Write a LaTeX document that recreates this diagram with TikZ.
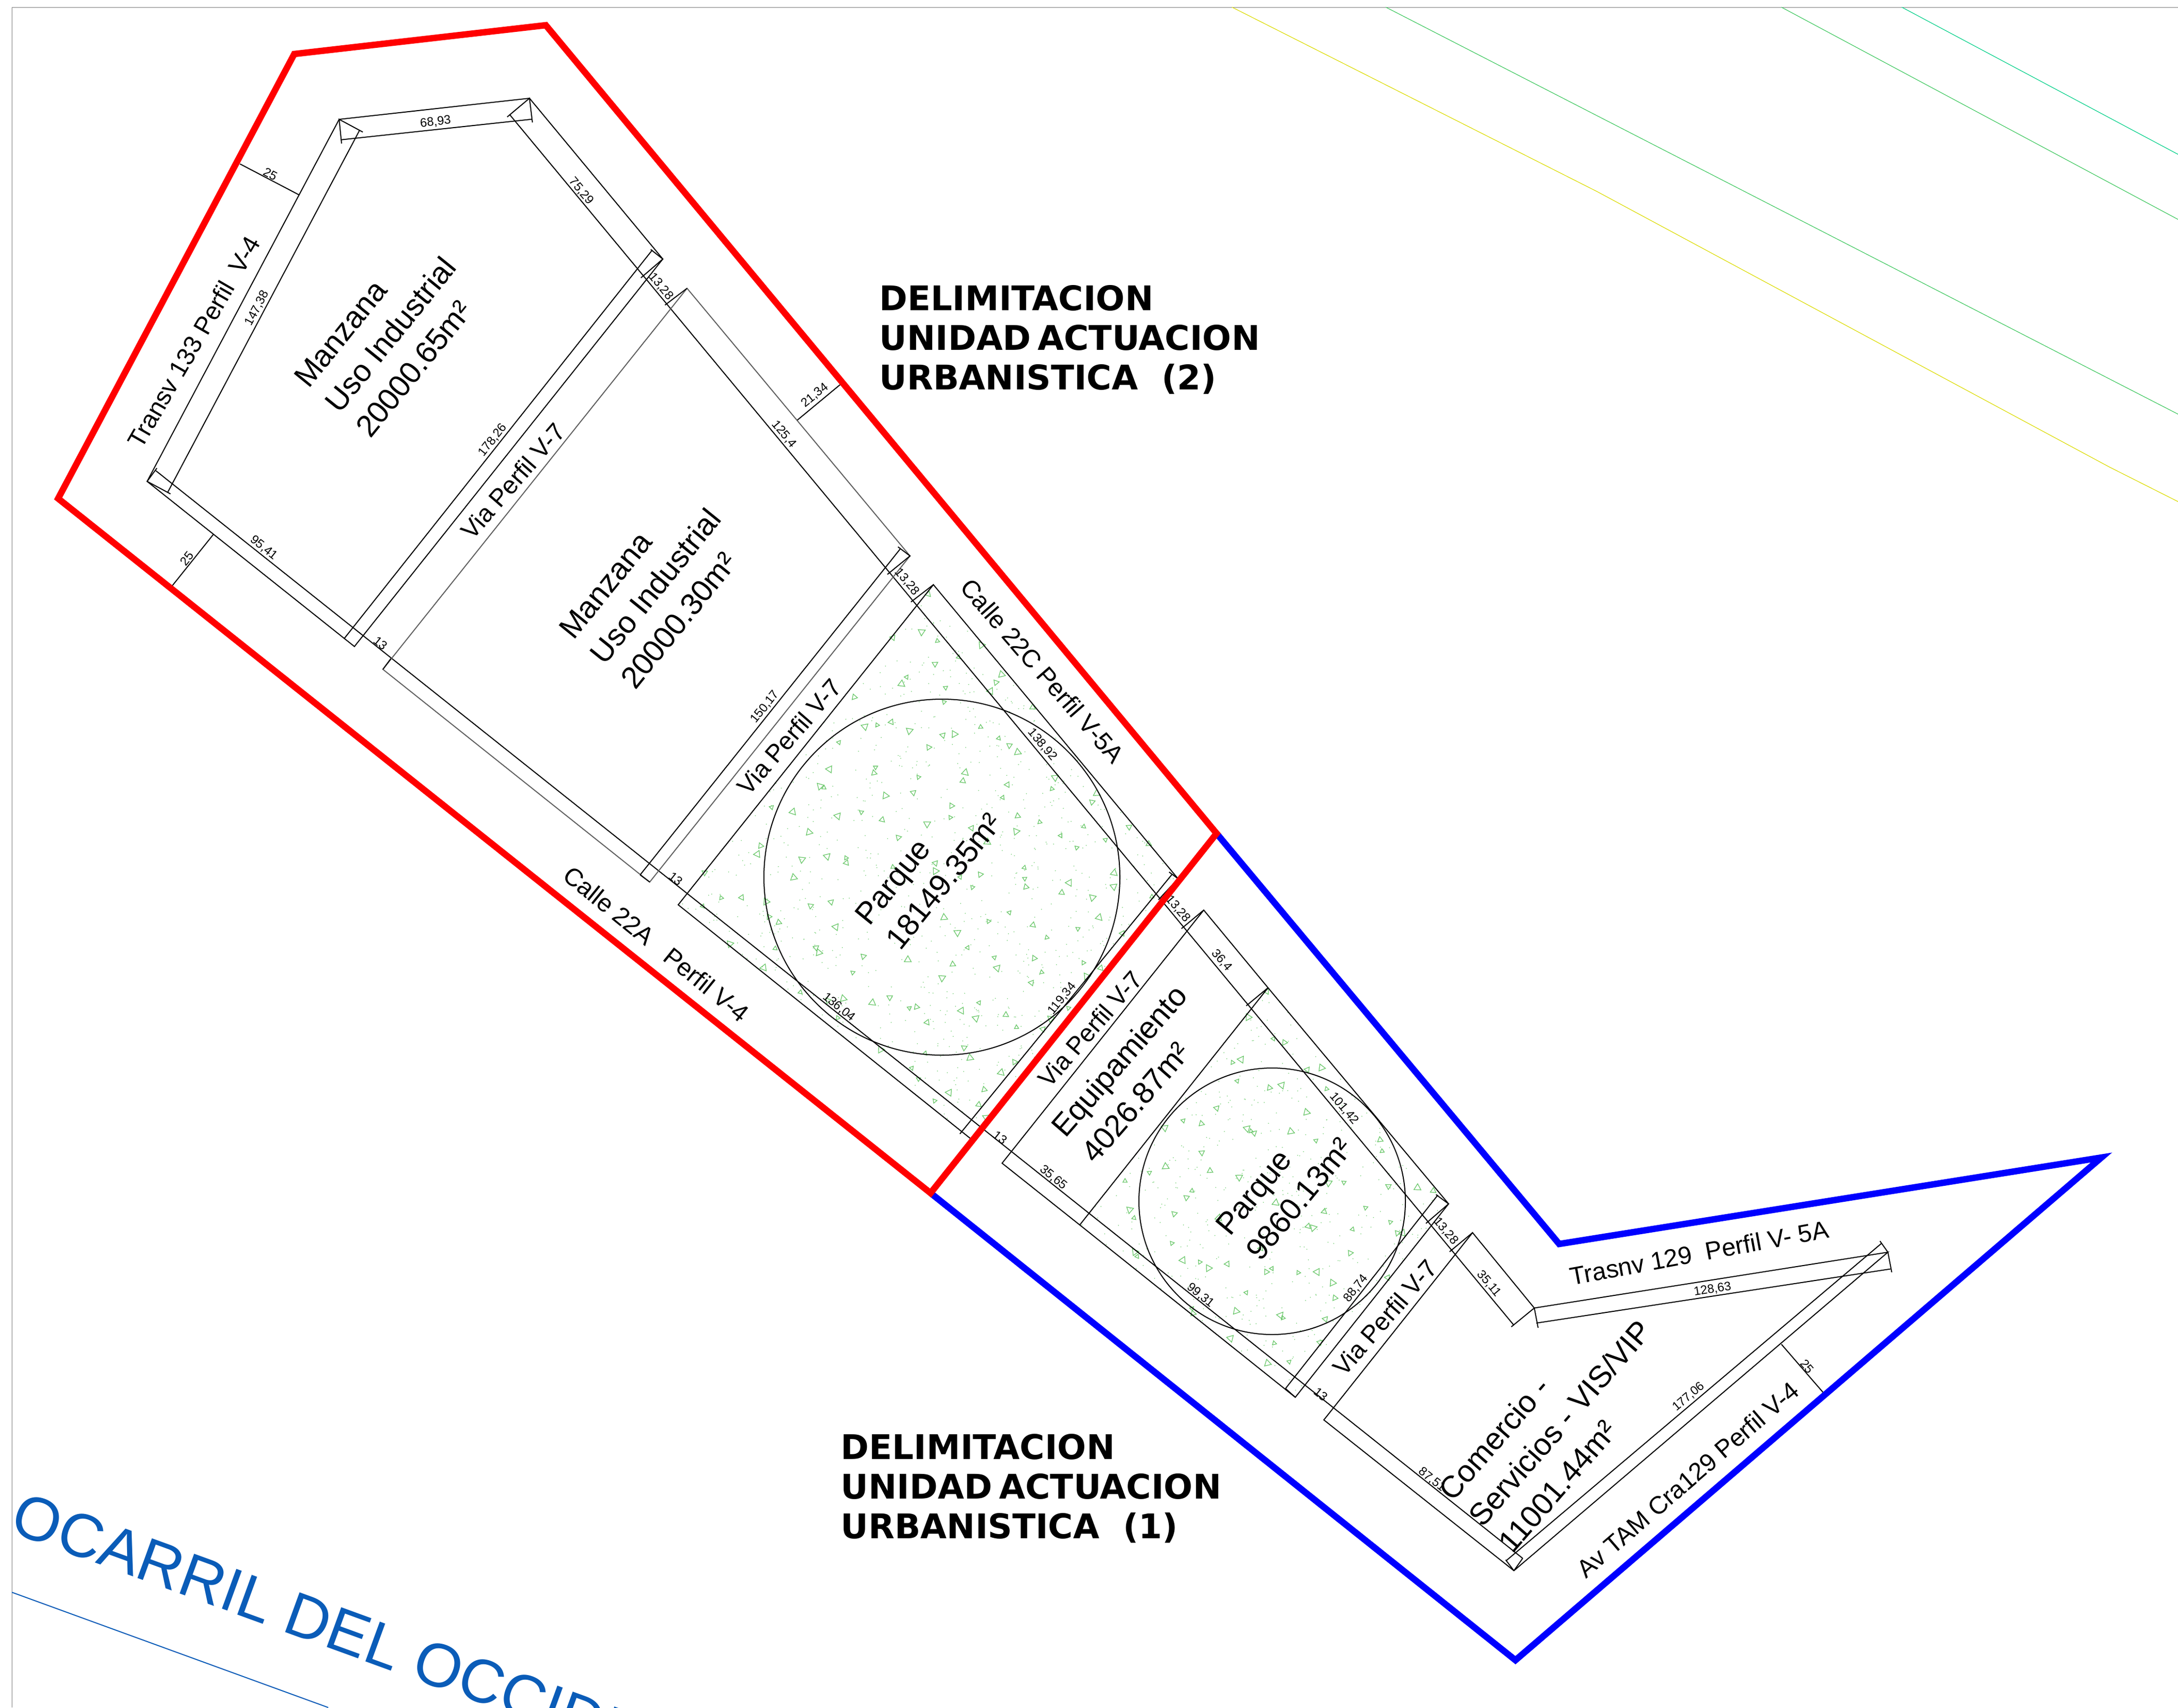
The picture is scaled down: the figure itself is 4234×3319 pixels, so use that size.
\documentclass[tikz,border=0pt]{standalone}
\usepackage{fontspec}
\setmainfont{Liberation Sans}
\newfontfamily\headfam{DejaVu Sans}
\definecolor{tree}{HTML}{6CC86C}
\definecolor{treedot}{HTML}{7FD27F}
\definecolor{frameg}{HTML}{808080}
\definecolor{grayline}{HTML}{606060}
\definecolor{rail}{HTML}{0A5CB8}
\definecolor{lineY}{HTML}{DCDC00}
\definecolor{lineG}{HTML}{40C860}
\definecolor{lineT}{HTML}{00D088}
\tikzset{
  cad/.style={draw=black,line width=0.2mm,line join=miter},
  cadgray/.style={draw=grayline,line width=0.2mm},
  limitred/.style={draw=red,line width=1.25mm,line join=miter},
  limitblue/.style={draw=blue,line width=1.25mm,line join=miter},
  dimtext/.style={inner sep=0pt,font=\fontsize{6.8pt}{8pt}\selectfont},
  roadtext/.style={inner sep=0pt,font=\fontsize{13.8pt}{17pt}\selectfont},
  areatext/.style={inner sep=0pt,anchor=west,align=left,font=\fontsize{17pt}{21.9pt}\selectfont},
  headtext/.style={inner sep=0pt,anchor=west,align=left,font=\headfam\bfseries\fontsize{18.8pt}{21.9pt}\selectfont},
  treemark/.style={draw=tree,line width=0.13mm,line join=miter},
  thinline/.style={line width=0.12mm}
}
\begin{document}
\begin{tikzpicture}[x=0.1mm,y=-0.1mm]
\useasboundingbox (0,0) rectangle (4234,3319);
\fill[white] (0,0) rectangle (4234,3319);
\clip (0,0) rectangle (4234,3319);

% frame and far lines
\draw[frameg,line width=0.1mm] (4234,14) -- (23,14) -- (23,3319);
\draw[lineY,thinline] (2395,14) -- (3104,372) -- (4101,908) -- (4234,975);
\draw[lineG,thinline] (2694,14) -- (4234,805);
\draw[lineG,thinline] (3463,14) -- (4234,426.5);
\draw[lineT,thinline] (3697,14) -- (4234,300);
\draw[rail,line width=0.2mm] (23,3095) -- (638,3319);
\node[inner sep=0pt,anchor=base west,rotate=-20,text=rail,font=\fontsize{34pt}{41pt}\selectfont] (railname) at (15,2976) {OCARRIL DEL OCCIDE};

% park hatching: dots
\begin{scope}
  \clip (1318.4,1758.7) -- (1814.5,1136.5) -- (2290,1708) -- (1887,2213.5) -- cycle;
  \begin{scope}[shift={(1318.4,1758.7)},x={(49.61mm,62.22mm)},y={(56.86mm,-45.48mm)}]
    \pgfmathsetseed{4711}
    \foreach \i in {1,...,860} \fill[treedot] (rnd,rnd) circle[radius=0.1mm];
  \end{scope}
\end{scope}
\begin{scope}
  \clip (2099,2381) -- (2465,1920) -- (2816,2340) -- (2518,2716) -- cycle;
  \begin{scope}[shift={(2099,2381)},x={(36.6mm,46.1mm)},y={(41.9mm,-33.5mm)}]
    \pgfmathsetseed{1234}
    \foreach \i in {1,...,470} \fill[treedot] (rnd,rnd) circle[radius=0.1mm];
  \end{scope}
\end{scope}
% park hatching: triangles
\foreach \X/\Y [count=\i] in {790/143,773/243,813/267,700/258,925/278,867/310,807/328,976/356,735/363,962/377,722/381,834/391,602/416,948/400,830/429,1055/443,629/494,660/490,696/482,742/505,923/495,827/517,856/514,969/525,996/544,1017/562,563/536,791/549,884/616,656/602,652/617,539/607,765/628,878/638,1112/629,1104/659,991/648,515/652,525/656,752/669,681/677,979/682,1206/694,1218/671,392/708,849/704,446/720,620/721,1017/731,560/731,846/735,673/741,787/752,1073/747,900/763,1013/772,1185/759,1300/760,487/774,1126/783,714/788,940/800,1240/794,364/810,356/832,1167/815,1350/805,533/838,581/842,582/855,469/846,700/866,808/856,808/877,1034/868,222/881,448/894,871/893,922/886,1262/882,1035/897,1038/919,1148/908,902/920,1129/934,1261/918,264/948,316/947,1207/947,1358/945,543/959,378/958,217/970,491/969,830/1000,996/987,385/998,1224/1000,1170/1030,410/1013,555/1025,943/1010,1056/1020,864/1040,1091/1053,1283/1042,286/1070,401/1082,505/1080,512/1093,890/1080,625/1103,738/1112,958/1106,1059/1108,372/1133,598/1146,852/1124,965/1134,1184/1120,1228/1134,825/1160,1078/1145,1052/1173,1192/1156,465/1198,692/1212,574/1215,919/1226,535/1220,648/1226,742/1240,760/1237,874/1247,1146/1240,987/1258,911/1267,560/1266,787/1278,1101/1268,1014/1291,1081/1296,669/1350,782/1360,881/1345,896/1372,748/1399,1009/1383,975/1411,765/1428,932/1456,843/1464,806/1486,918/1496,937/1530}
  \draw[treemark,shift={({1200+\X/1.3067},{1050+\Y/1.3635})},rotate={\i*73},scale={0.8+0.25*mod(\i,3)}] (0:6) -- (120:6) -- (240:6) -- cycle;
\foreach \X/\Y [count=\i] in {735/310,688/378,752/435,780/445,670/490,648/498,838/517,874/512,660/547,742/565,773/558,887/568,608/619,836/630,523/652,569/660,685/673,695/680,703/685,796/681,860/705,1023/703,476/671,1028/733,570/737,478/774,437/790,591/785,665/802,375/812,1044/826,1118/830,931/816,1158/838,892/817,545/838,531/856,758/870,986/883,881/893,387/888,398/910,500/899,613/910,1049/921,840/932,853/936,953/940,1067/950,1080/950,494/977,720/990,400/1000,406/1012,947/1003,522/1022,565/1027,635/1032,587/1043,748/1044,734/1053,863/1053,815/1055,1042/1068,902/1082,683/1108,908/1122,770/1168,776/1175,884/1178,657/1157,545/1150,548/1163,643/1229,754/1242,870/1240,737/1295,792/1291}
  \draw[treemark,shift={({1900+\X/1.3067},{1700+\Y/1.3635})},rotate={\i*59},scale={0.8+0.25*mod(\i,3)}] (0:6) -- (120:6) -- (240:6) -- cycle;

% long dimension lines
\draw[cad] (303,915) -- (2960,3029);
\draw[cad] (990.7,222.7) -- (2943,2576);

% block 1
\draw[cad] (659.3,232) -- (1029.3,191) -- (1288.5,503.5) -- (689,1256.7) -- (286,935.7) -- cycle;
\draw[cad] (664,279) -- (659.3,232) -- (705.3,256.7);
\draw[cad] (1035,238) -- (1029.3,191) -- (986,227.3);
\draw[cad] (663.3,271.7) -- (1034.3,231.7);
\draw[cad] (699.3,252.7) -- (326,957);
\draw[cad] (305,910) -- (286,935.7) -- (331.4,960);
\draw[cad] (669.3,1241) -- (1268,486);
\draw[cad] (1265,485) -- (1288.5,503.5) -- (1246,540);
\draw[cad] (466.6,318.7) -- (581.4,378.8);
\draw[cad] (414.6,1039) -- (334.3,1139.3);

% block 2
\draw[cadgray] (1335.6,560.4) -- (1769,1080.6) -- (1263,1714.5) -- (744.3,1301) -- cycle;
\draw[cad] (1335.6,560.4) -- (1292.7,593);
\draw[cad] (760,1280) -- (744.3,1301);
\draw[cad] (1244.4,1700.6) -- (1263,1714.5);
\draw[cad] (1244.4,1700.6) -- (1750,1067);
\draw[cad] (1745.7,1063) -- (1769,1080.6) -- (1725,1116.5);
\draw[cad] (1550,816.6) -- (1634,747);

% park 1
\draw[cad] (1814.5,1136.5) -- (2290,1708) -- (1887,2213.5) -- (1318.4,1758.7) -- cycle;
\draw[cad] (1814.5,1136.5) -- (1771,1170);
\draw[cad] (1866,2204) -- (2278,1700);
\draw[cad] (2272.7,1695) -- (2290,1708) -- (2252,1749);
\draw[cad] (1831,1705) circle[radius=346];

% equipamiento
\draw[cad] (2340,1769) -- (2465,1920) -- (2099,2381) -- (1948,2261) -- cycle;
\draw[cad] (2340,1769) -- (2296.7,1805);

% park 2
\draw[cad] (2465,1920) -- (2816,2340) -- (2518,2716) -- (2099,2381);
\draw[cad] (2465,1920) -- (2422.7,1955);
\draw[cad] (2499,2699) -- (2518,2716);
\draw[cad] (2499,2699) -- (2795,2323);
\draw[cad] (2791.5,2322) -- (2816,2340) -- (2772,2378);
\draw[cad] (2473,2335) circle[radius=259];

% comercio
\draw[cad] (2862.6,2396) -- (2982.6,2542.5) -- (3670,2434) -- (2943,3053) -- (2573.5,2760) -- cycle;
\draw[cad] (2862.6,2396) -- (2818,2433);
\draw[cad] (2982.6,2542.5) -- (2938,2579);
\draw[cad] (2986.5,2571.8) -- (3675,2466.6);
\draw[cad] (2982.6,2542.5) -- (2990,2581);
\draw[cad] (3670,2434) -- (3677.5,2473);
\draw[cad] (2927.5,3034) -- (3657.6,2416.8);
\draw[cad] (3670,2434) -- (3654.6,2412.4);
\draw[cad] (2943,3053) -- (2960,3029);
\draw[cad] (2943,3053) -- (2927,3032);
\draw[cad] (3463,2613) -- (3547,2710);

% dimension labels
\node[dimtext,rotate=6.3] (d1) at (846.7,237) {68,93};
\node[dimtext,rotate=-28] (d2) at (525.5,338.5) {25};
\node[dimtext,rotate=62] (d3) at (500,599) {147,38};
\node[dimtext,rotate=-50] (d4) at (1130,371.5) {75,29};
\node[dimtext,rotate=-50] (d5) at (1285,557) {13,28};
\node[dimtext,rotate=51.5] (d6) at (958,855.5) {178,26};
\node[dimtext,rotate=-38.6] (d7) at (513,1065) {95,41};
\node[dimtext,rotate=51] (d8) at (363.6,1085.7) {25};
\node[dimtext,rotate=-38.6] (d9) at (739.6,1250) {13};
\node[dimtext,rotate=39] (d10) at (1584,768.4) {21,34};
\node[dimtext,rotate=-50] (d11) at (1524,844) {125,4};
\node[dimtext,rotate=-50] (d12) at (1763.4,1131) {13,28};
\node[dimtext,rotate=51] (d13) at (1487,1374) {150,17};
\node[dimtext,rotate=-50] (d14) at (2026.5,1447.5) {138,92};
\node[dimtext,rotate=-38.6] (d15) at (1314,1708) {13};
\node[dimtext,rotate=-38.6] (d16) at (1631,1957.6) {136,04};
\node[dimtext,rotate=51] (d17) at (2064.8,1941) {119,34};
\node[dimtext,rotate=-50] (d18) at (2290,1766.7) {13,28};
\node[dimtext,rotate=-50] (d19) at (2375,1866.7) {36,4};
\node[dimtext,rotate=-38.6] (d20) at (1944.4,2211) {13};
\node[dimtext,rotate=-38.6] (d21) at (2047.7,2289) {35,65};
\node[dimtext,rotate=-50] (d22) at (2613,2154.7) {101,42};
\node[dimtext,rotate=51] (d23) at (2636,2504.5) {88,74};
\node[dimtext,rotate=-38.6] (d24) at (2334,2517.8) {99,31};
\node[dimtext,rotate=-50] (d25) at (2810.7,2393) {13,28};
\node[dimtext,rotate=-50] (d26) at (2894.6,2495) {35,11};
\node[dimtext,rotate=-38.6] (d27) at (2568,2710) {13};
\node[dimtext,rotate=9] (d28) at (3329,2506) {128,63};
\node[dimtext,rotate=40] (d29) at (3282.6,2715) {177,06};
\node[dimtext,rotate=-49] (d30) at (3513,2656) {25};
\node[dimtext,rotate=-38.6] (d31) at (2783.7,2876) {87,51};

% boundaries
\draw[limitblue] (2365,1620) -- (3031,2418) -- (4085,2250) -- (2946,3227) -- (1809,2319);
\draw[limitred] (572,105) -- (1061,49) -- (2365,1620) -- (1809,2319) -- (113,969) -- cycle;

% road labels
\node[roadtext,rotate=60] (r1) at (377,665) {Transv 133 Perfil\ \ V-4};
\node[roadtext,rotate=49] (r2) at (997,935) {Via Perfil V-7};
\node[roadtext,rotate=49] (r3) at (1534,1432) {Via Perfil V-7};
\node[roadtext,rotate=-49] (r4) at (2026.5,1304) {Calle 22C Perfil V-5A};
\node[roadtext,rotate=-39] (r5) at (1276,1835) {Calle 22A\ \ \ Perfil V-4};
\node[roadtext,rotate=49] (r6) at (2119,2000) {Via Perfil V-7};
\node[roadtext,rotate=49] (r7) at (2692,2561) {Via Perfil V-7};
\node[roadtext,rotate=10.5] (r8) at (3303,2435) {Trasnv 129\ \ Perfil V- 5A};
\node[roadtext,rotate=40.8] (r9) at (3281,2876) {Av TAM Cra129 Perfil V-4};

% area labels
\node[areatext,rotate=51] (a1) at (644,793) {Manzana\\Uso Industrial\\20000.65m²};
\node[areatext,rotate=51] (a2) at (1159,1282) {Manzana\\Uso Industrial\\20000.30m²};
\node[areatext,rotate=51] (a3) at (1704,1813) {Parque\\18149.35m²};
\node[areatext,rotate=49] (a4) at (2084,2225) {Equipamiento\\4026.87m²};
\node[areatext,rotate=50.5] (a5) at (2405,2417) {Parque\\9860.13m²};
\node[areatext,rotate=49] (a6) at (2866,2957) {Comercio -\\Servicios - VIS/VIP\\11001.44m²};

% headings
\node[headtext] (h2) at (1709,660) {DELIMITACION\\UNIDAD\hspace{0.2em}ACTUACION\\URBANISTICA\ \ (2)};
\node[headtext] (h1) at (1634,2893) {DELIMITACION\\UNIDAD\hspace{0.2em}ACTUACION\\URBANISTICA\ \ (1)};
\end{tikzpicture}
\end{document}
